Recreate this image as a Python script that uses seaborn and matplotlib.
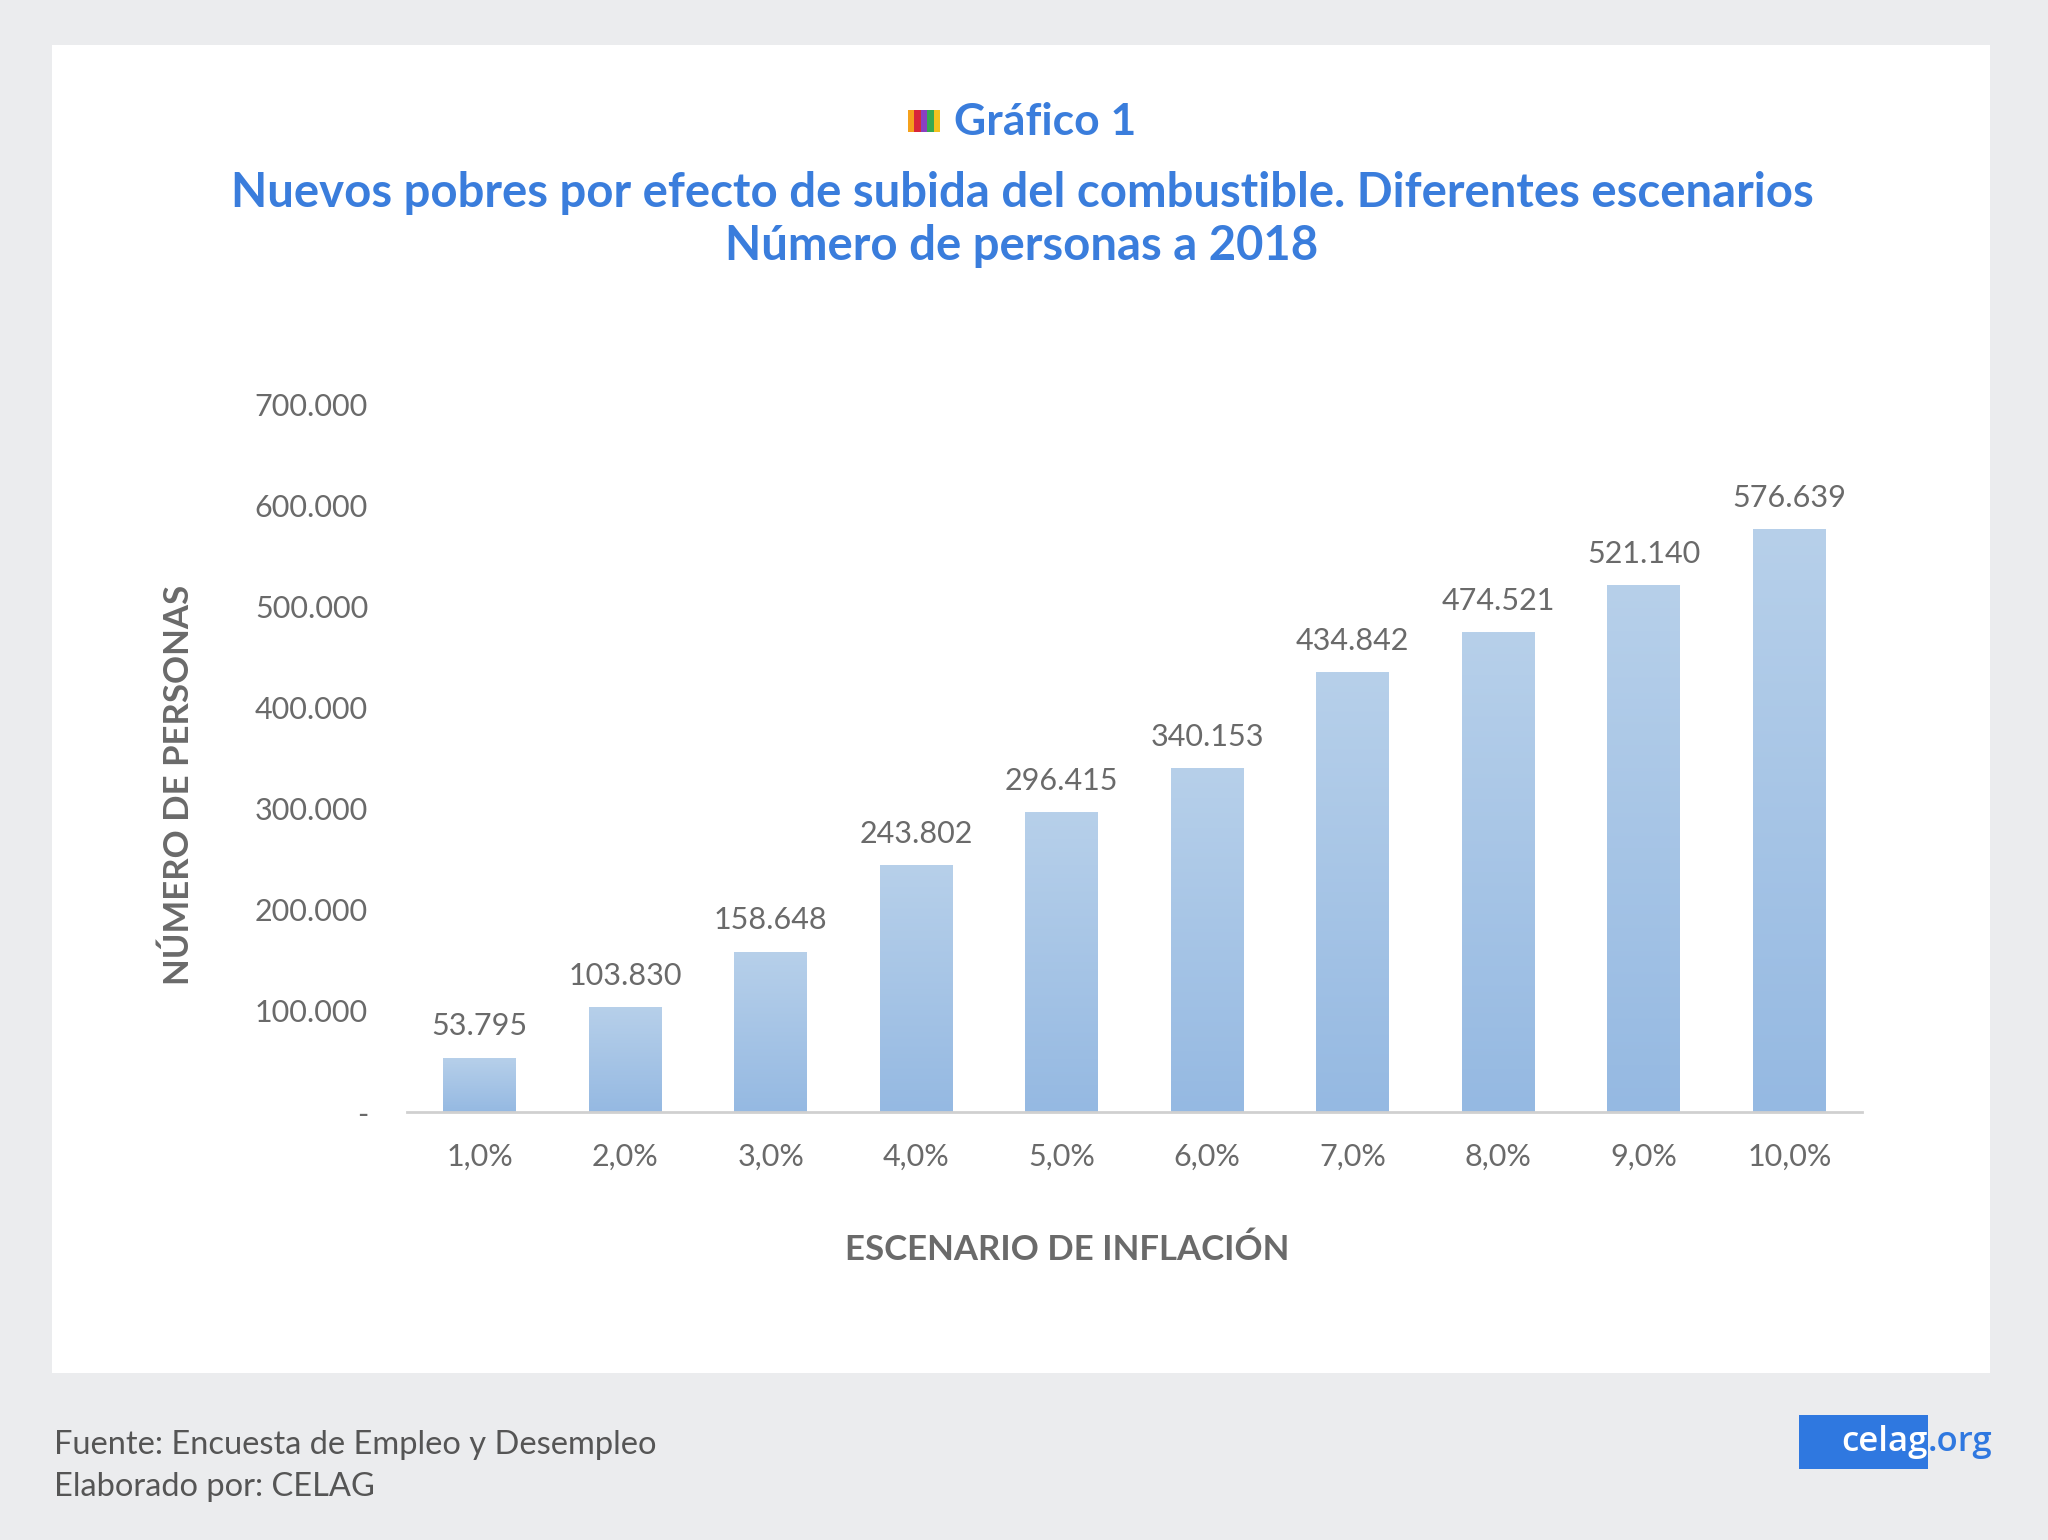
import numpy as np
import pandas as pd
import matplotlib
matplotlib.use("Agg")
import matplotlib.pyplot as plt
from matplotlib.patches import Rectangle
import seaborn as sns

# datos
escenarios = ["1,0%", "2,0%", "3,0%", "4,0%", "5,0%", "6,0%", "7,0%", "8,0%", "9,0%", "10,0%"]
personas = [53795, 103830, 158648, 243802, 296415, 340153, 434842, 474521, 521140, 576639]
yticks = [0, 100000, 200000, 300000, 400000, 500000, 600000, 700000]

def miles(v):
    return "-" if v == 0 else f"{v:,.0f}".replace(",", ".")

df = pd.DataFrame({"escenario": escenarios, "personas": personas})

sns.set_theme(style="white")
plt.rcParams["font.family"] = ["Lato", "DejaVu Sans"]

BLUE = "#3a7ddc"
GRAY = "#6a6a6a"

fig = plt.figure(figsize=(20.48, 15.40), dpi=100)
fig.patch.set_facecolor("#ebecee")
# panel blanco
fig.patches.append(Rectangle((52 / 2048, 1 - 1373 / 1540), (1990 - 52) / 2048, (1373 - 45) / 1540,
                             transform=fig.transFigure, facecolor="white", edgecolor="none", zorder=-5))

ax = fig.add_axes([407 / 2048, 1 - 1112 / 1540, (1862 - 407) / 2048, (1112 - 404) / 1540])
ax.set_facecolor("none")
ax.set_zorder(2)
sns.barplot(data=df, x="escenario", y="personas", color="#a6c4e6", width=0.5, ax=ax, saturation=1)

# degradado vertical en cada barra
grad = np.linspace(0, 1, 256).reshape(-1, 1)
cmap = matplotlib.colors.LinearSegmentedColormap.from_list("g", ["#95b9e2", "#b7d0ea"])
for p in ax.patches:
    x0, y0 = p.get_x(), p.get_y()
    w, h = p.get_width(), p.get_height()
    im = ax.imshow(grad, cmap=cmap, origin="lower", aspect="auto",
                   extent=[x0, x0 + w, y0, y0 + h], zorder=p.get_zorder() + 0.1)
    im.set_clip_path(p)

ax.set_xlim(-0.5, 9.5)
ax.set_ylim(0, 700000)
ax.set_yticks(yticks)
ax.set_yticklabels([miles(v) for v in yticks])

for i, v in enumerate(personas):
    ax.text(i, v + 17000, miles(v), ha="center", va="bottom", fontsize=22, color=GRAY)

for s in ["top", "right", "left"]:
    ax.spines[s].set_visible(False)
ax.spines["bottom"].set_color("#d0d0d0")
ax.spines["bottom"].set_linewidth(2)
ax.tick_params(axis="both", length=0, labelsize=22, labelcolor=GRAY)
ax.tick_params(axis="y", pad=28)
ax.tick_params(axis="x", pad=22)

ax.set_xlabel("ESCENARIO DE INFLACIÓN", fontsize=25, fontweight="bold", color=GRAY)
ax.set_ylabel("NÚMERO DE PERSONAS", fontsize=25, fontweight="bold", color=GRAY)
ax.xaxis.set_label_coords(0.4536, -0.172)
ax.yaxis.set_label_coords(-0.146, 0.462)

# títulos
fig.text(1045 / 2048, 1 - 122 / 1540, "Gráfico 1", ha="center", va="center",
         fontsize=32, fontweight="bold", color=BLUE)
fig.text(1022 / 2048, 1 - 193 / 1540, "Nuevos pobres por efecto de subida del combustible. Diferentes escenarios",
         ha="center", va="center", fontsize=34, fontweight="bold", color=BLUE)
fig.text(1022 / 2048, 1 - 246 / 1540, "Número de personas a 2018",
         ha="center", va="center", fontsize=34, fontweight="bold", color=BLUE)

# icono de colores
for k, c in enumerate(["#f5a11c", "#d8263a", "#8a3fc0", "#36a852", "#f2c21f"]):
    fig.patches.append(Rectangle(((908 + k * 6.4) / 2048, 1 - 132 / 1540), 6.4 / 2048, 22 / 1540,
                                 transform=fig.transFigure, facecolor=c, edgecolor="none"))

# pie
fig.text(54 / 2048, 1 - 1445 / 1540, "Fuente: Encuesta de Empleo y Desempleo",
         ha="left", va="center", fontsize=23.5, color="#555555")
fig.text(54 / 2048, 1 - 1487 / 1540, "Elaborado por: CELAG",
         ha="left", va="center", fontsize=23.5, color="#555555")

# logo
fig.patches.append(Rectangle((1799 / 2048, 1 - 1469 / 1540), 129 / 2048, 54 / 1540,
                             transform=fig.transFigure, facecolor="#2f78e0", edgecolor="none"))
fig.text(1928 / 2048, 1 - 1442 / 1540, "celag", ha="right", va="center",
         fontsize=25, fontweight="semibold", color="white", family=["Open Sans", "DejaVu Sans"])
fig.text(1928 / 2048, 1 - 1442 / 1540, ".org", ha="left", va="center",
         fontsize=25, fontweight="semibold", color="#2f78e0", family=["Open Sans", "DejaVu Sans"])

fig.savefig("out.png", dpi=100, facecolor=fig.get_facecolor())
